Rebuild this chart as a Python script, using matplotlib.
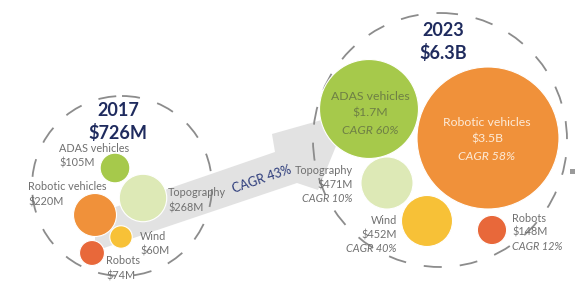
import matplotlib.pyplot as plt
import matplotlib.patches as mpatches
import numpy as np

plt.rcParams['font.family'] = ['Lato', 'DejaVu Sans']

# market segments and their sizes ($M)
segments = ['ADAS vehicles', 'Topography', 'Robotic vehicles', 'Wind', 'Robots']
value_2017 = [105, 268, 220, 60, 74]
value_2023 = [1700, 471, 3500, 452, 148]
cagr_2023 = [60, 10, 58, 40, 12]
label_2017 = ['$105M', '$268M', '$220M', '$60M', '$74M']
label_2023 = ['$1.7M', '$471M', '$3.5B', '$452M', '$148M']
total_2017 = '$726M'
total_2023 = '$6.3B'
cagr_total = 43

colors = ['#a6c94b', '#dde9b6', '#f0913a', '#f7c137', '#e8683a']
navy = '#1f2b5e'
grey = '#707070'

# layout (pixel space, y down)
pos_2017 = [(115, 168), (143, 198), (95, 215), (121, 237), (92, 253)]
pos_2023 = [(369, 109), (387, 183), (488, 138), (427, 221), (492, 230)]
k_2017 = 1.45
k_2023 = 1.2

fig = plt.figure(figsize=(5.8, 2.94), dpi=100)
ax = fig.add_axes([0, 0, 1, 1])
ax.set_xlim(0, 580)
ax.set_ylim(294, 0)
ax.set_aspect('equal')
ax.axis('off')

# grey growth arrow
arrow = mpatches.Polygon([(95, 251), (95, 214), (275, 152), (272, 134), (350, 112),
                          (318, 190), (297, 183)], closed=True,
                         facecolor='#e2e2e2', edgecolor='none', zorder=1)
ax.add_patch(arrow)

# dashed outline circles
for c, r in [((122, 186), 90), ((440, 140), 127)]:
    ax.add_patch(mpatches.Circle(c, r, fill=False, edgecolor='#8c8c8c', lw=1.3,
                                 linestyle=(0, (10, 10)), zorder=2))

for i in range(len(segments)):
    ax.add_patch(mpatches.Circle(pos_2017[i], k_2017 * np.sqrt(value_2017[i]),
                                 facecolor=colors[i], edgecolor='white', lw=0.8, zorder=3))
    ax.add_patch(mpatches.Circle(pos_2023[i], k_2023 * np.sqrt(value_2023[i]),
                                 facecolor=colors[i], edgecolor='white', lw=0.8, zorder=3))

# titles
ax.text(118, 111, '2017', ha='center', va='center', fontsize=13, fontweight='bold', color=navy, zorder=5)
ax.text(118, 133, total_2017, ha='center', va='center', fontsize=13, fontweight='bold', color=navy, zorder=5)
ax.text(443, 31, '2023', ha='center', va='center', fontsize=13, fontweight='bold', color=navy, zorder=5)
ax.text(443, 53, total_2023, ha='center', va='center', fontsize=13, fontweight='bold', color=navy, zorder=5)

ax.text(262, 179, 'CAGR %d%%' % cagr_total, ha='center', va='center', fontsize=9,
        color='#2b3a7a', rotation=19, zorder=5)

# 2017 labels
lab17 = [(59, 148, 'left'), (168, 193, 'left'), (28, 187, 'left'), (140, 236, 'left'), (106, 261, 'left')]
for i, (x, y, ha) in enumerate(lab17):
    ax.text(x, y, segments[i], ha=ha, va='center', fontsize=7.8, color=grey, zorder=5)
    ax.text(x, y + 15, label_2017[i], ha=ha, va='center', fontsize=7.8, color=grey, zorder=5)

# 2023 labels
lab23 = [(370, 97, 'center'), (353, 171, 'right'), (487, 123, 'center'), (397, 221, 'right'), (512, 218, 'left')]
for i, (x, y, ha) in enumerate(lab23):
    col = grey
    if i == 0:
        col = '#6e7f45'
    if i == 2:
        col = '#fdebd8'
    fs = 8.8 if i in (0, 2) else 7.8
    step = 16.5 if i in (0, 2) else 14
    ax.text(x, y, segments[i], ha=ha, va='center', fontsize=fs, color=col, zorder=5)
    ax.text(x, y + step, label_2023[i], ha=ha, va='center', fontsize=fs, color=col, zorder=5)
    ax.text(x, y + 2 * step, 'CAGR %d%%' % cagr_2023[i], ha=ha, va='center', fontsize=fs,
            color=col, style='italic', zorder=5)

ax.add_patch(mpatches.Rectangle((570, 169), 5, 5, facecolor='#9a9a9a', edgecolor='none'))

fig.savefig('out.png', dpi=100)
